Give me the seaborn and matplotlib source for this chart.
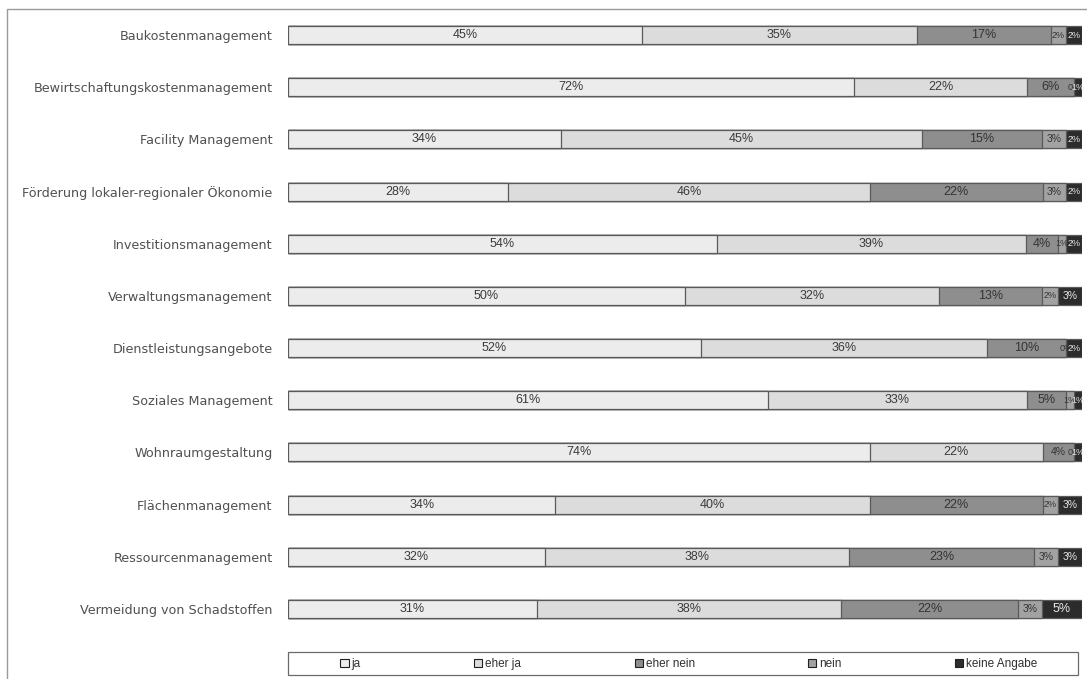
import matplotlib
matplotlib.use("Agg")
import matplotlib.pyplot as plt
from matplotlib.patches import Rectangle, Patch
import numpy as np
import pandas as pd
import seaborn as sns

categories = [
    "Baukostenmanagement",
    "Bewirtschaftungskostenmanagement",
    "Facility Management",
    "Förderung lokaler-regionaler Ökonomie",
    "Investitionsmanagement",
    "Verwaltungsmanagement",
    "Dienstleistungsangebote",
    "Soziales Management",
    "Wohnraumgestaltung",
    "Flächenmanagement",
    "Ressourcenmanagement",
    "Vermeidung von Schadstoffen",
]
series_names = ["ja", "eher ja", "eher nein", "nein", "keine Angabe"]
ja = [45, 72, 34, 28, 54, 50, 52, 61, 74, 34, 32, 31]
eher_ja = [35, 22, 45, 46, 39, 32, 36, 33, 22, 40, 38, 38]
eher_nein = [17, 6, 15, 22, 4, 13, 10, 5, 4, 22, 23, 22]
nein = [2, 0, 3, 3, 1, 2, 0, 1, 0, 2, 3, 3]
keine_angabe = [2, 1, 2, 2, 2, 3, 2, 1, 1, 3, 3, 5]

colors = ["#ececec", "#dcdcdc", "#8e8e8e", "#a2a2a2", "#2c2c2c"]
text_colors = ["#3a3a3a", "#3a3a3a", "#333333", "#333333", "#e8e8e8"]

values = np.array([ja, eher_ja, eher_nein, nein, keine_angabe], dtype=float)
totals = values.sum(axis=0)
shares = values / totals * 100.0
cum = np.cumsum(shares, axis=0)

df = pd.DataFrame({"Kategorie": categories})
for i, name in enumerate(series_names):
    df[name] = cum[i]

sns.set_theme(style="white")
plt.rcParams["font.family"] = ["Liberation Sans", "DejaVu Sans"]

W, H = 1087, 679
fig = plt.figure(figsize=(W / 100, H / 100), dpi=100)
ax = fig.add_axes([288 / W, 1 - 635 / H, (1082 - 288) / W, (635 - 9) / H])

# stacked bars: draw cumulative totals from the outermost series inward
for i in range(len(series_names) - 1, -1, -1):
    sns.barplot(data=df, x=series_names[i], y="Kategorie", orient="h",
                color=colors[i], saturation=1, width=0.345,
                edgecolor="#5a5a5a", linewidth=0.9, ax=ax)

# percentage labels centred in each segment
for i in range(len(series_names)):
    starts = cum[i] - shares[i]
    for r in range(len(categories)):
        x = starts[r] + shares[i][r] / 2
        share = shares[i][r]
        size = 9 if share >= 4 else (7.5 if share >= 2.5 else 6.5)
        ax.text(x, r, f"{int(values[i][r])}%", ha="center", va="center",
                fontsize=size, color=text_colors[i])

ax.set_xlim(0, 100)
ax.set_ylim(len(categories) - 0.5, -0.5)
ax.set_xlabel("")
ax.set_ylabel("")
ax.set_xticks([])
for s in ax.spines.values():
    s.set_visible(False)
ax.tick_params(axis="y", length=0, pad=11)
for lbl in ax.get_yticklabels():
    lbl.set_fontfamily("DejaVu Sans")
    lbl.set_fontsize(9.2)
    lbl.set_color("#505050")

# legend box under the bars
fig.patches.append(Rectangle((288 / W, 1 - 675 / H), (1078 - 288) / W, 23 / H,
                             transform=fig.transFigure, fill=False,
                             edgecolor="#6a6a6a", linewidth=0.9))
handles = [Patch(facecolor=colors[i], edgecolor="#202020", linewidth=0.8)
           for i in range(len(series_names))]
leg = fig.legend(handles, series_names, loc="center", ncol=5,
                 bbox_to_anchor=(689 / W, 1 - 664 / H),
                 frameon=False, fontsize=8.5, handlelength=0.7,
                 handleheight=0.7, handletextpad=0.25, columnspacing=9.6,
                 borderpad=0, borderaxespad=0)
for t in leg.get_texts():
    t.set_color("#303030")

# outer chart frame
fig.patches.append(Rectangle((7 / W, -0.05), 1.1, 1 - 9 / H + 0.05,
                             transform=fig.transFigure, fill=False,
                             edgecolor="#9a9a9a", linewidth=1.0))

fig.savefig("out.png", dpi=100)
